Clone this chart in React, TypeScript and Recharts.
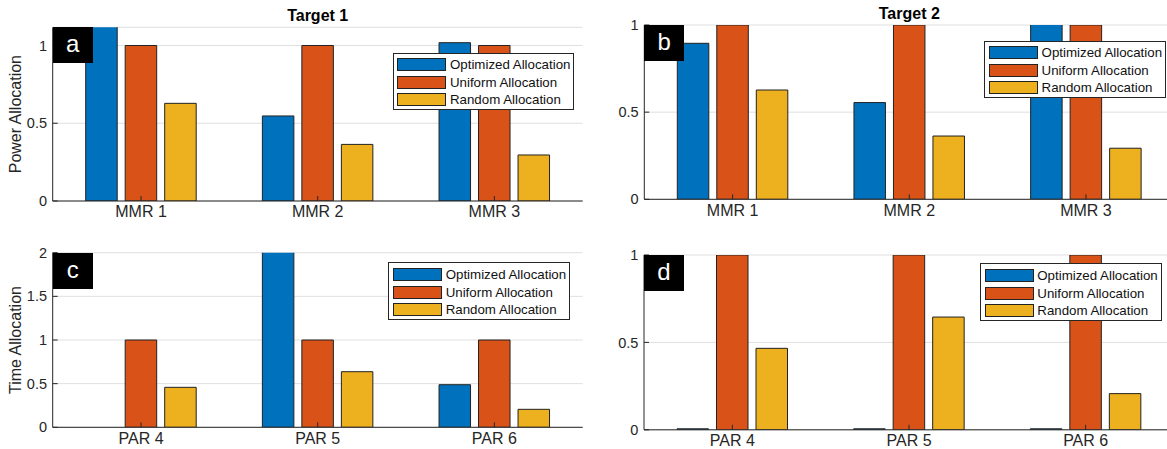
import React from 'react';
import { BarChart, Bar, XAxis, YAxis, CartesianGrid, Legend } from 'recharts';

const mmrLabels = ['MMR 1', 'MMR 2', 'MMR 3'];
const parLabels = ['PAR 4', 'PAR 5', 'PAR 6'];
const seriesNames = ['Optimized Allocation', 'Uniform Allocation', 'Random Allocation'];

// power allocation (top row)
const powerOptimizedT1 = [1.25, 0.547, 1.018];
const powerUniformT1 = [1, 1, 1];
const powerRandomT1 = [0.628, 0.364, 0.296];
const powerOptimizedT2 = [0.895, 0.555, 1.05];
const powerUniformT2 = [1, 1, 1];
const powerRandomT2 = [0.627, 0.363, 0.293];

// time allocation (bottom row)
const timeOptimizedT1 = [0, 2.05, 0.488];
const timeUniformT1 = [1, 1, 1];
const timeRandomT1 = [0.458, 0.637, 0.206];
const timeOptimizedT2 = [0, 0, 0];
const timeUniformT2 = [1, 1, 1];
const timeRandomT2 = [0.466, 0.645, 0.207];

const ticksUnit = [0, 0.5, 1];
const ticksTwo = [0, 0.5, 1, 1.5, 2];

const BLUE = '#0072BD';
const ORANGE = '#D95319';
const YELLOW = '#EDB120';
const AXIS = '#262626';
const FONT = '"Liberation Sans", Arial, Helvetica, sans-serif';

const build = (cats: string[], opt: number[], uni: number[], rnd: number[]) =>
  cats.map((name, i) => ({ name, optimized: opt[i], uniform: uni[i], random: rnd[i] }));

const renderLegend = (props: any) => {
  const items = [...(props.payload || [])].sort(
    (a: any, b: any) => seriesNames.indexOf(a.value) - seriesNames.indexOf(b.value)
  );
  return (
    <div
      style={{
        border: `1px solid ${AXIS}`,
        background: '#fff',
        padding: '2.5px 3px 0.5px 3.6px',
        fontFamily: FONT,
        fontSize: 13.3,
        color: '#111',
        whiteSpace: 'nowrap',
      }}
    >
      {items.map((p: any) => (
        <div key={p.value} style={{ display: 'flex', alignItems: 'center', height: 17.5 }}>
          <span
            style={{
              display: 'inline-block',
              width: 49,
              height: 13,
              background: p.color,
              border: '1px solid #222',
              boxSizing: 'border-box',
            }}
          />
          <span style={{ marginLeft: 3.7 }}>{p.value}</span>
        </div>
      ))}
    </div>
  );
};

type PanelProps = {
  data: any[];
  left: number;
  top: number;
  width: number;
  height: number;
  margin: { top: number; right: number; bottom: number; left: number };
  yWidth: number;
  xHeight: number;
  domainMax: number;
  ticks: number[];
  yLabel?: string;
  title?: string;
  letter: string;
  legendPos: { left: number; top: number };
  zeroLine?: boolean;
};

function Panel(p: PanelProps) {
  const plotLeft = p.margin.left + p.yWidth;
  const plotRight = p.width - p.margin.right;
  const plotTop = p.margin.top;
  return (
    <div style={{ position: 'absolute', left: p.left, top: p.top, width: p.width, height: p.height }}>
      <BarChart
        width={p.width}
        height={p.height}
        data={p.data}
        margin={p.margin}
        barSize={31.5}
        barGap={8}
        style={{ fontFamily: FONT }}
      >
        <CartesianGrid vertical={false} stroke="#dfdfdf" />
        <XAxis
          dataKey="name"
          height={p.xHeight}
          stroke={AXIS}
          tickSize={-5}
          tickMargin={10}
          tick={{ fill: AXIS, fontSize: 16, fontFamily: FONT }}
        />
        <XAxis
          xAxisId="top"
          orientation="top"
          dataKey="name"
          height={0}
          stroke={AXIS}
          tickSize={-5}
          tick={false}
        />
        <YAxis
          type="number"
          domain={[0, p.domainMax]}
          ticks={p.ticks}
          allowDataOverflow
          width={p.yWidth}
          stroke={AXIS}
          tickSize={-5}
          tickMargin={10.7}
          tick={{ fill: AXIS, fontSize: 14.5, fontFamily: FONT }}
          label={
            p.yLabel
              ? {
                  value: p.yLabel,
                  angle: -90,
                  position: 'insideLeft',
                  offset: 15,
                  fontSize: 16,
                  fill: AXIS,
                  fontFamily: FONT,
                  style: { textAnchor: 'middle', fill: AXIS, fontSize: 16, fontFamily: FONT },
                }
              : undefined
          }
        />
        <YAxis
          yAxisId="right"
          orientation="right"
          type="number"
          domain={[0, p.domainMax]}
          ticks={p.ticks}
          allowDataOverflow
          width={0}
          stroke={AXIS}
          tickSize={-5}
          tick={false}
        />
        <Legend
          layout="vertical"
          align="center"
          verticalAlign="middle"
          content={renderLegend}
          wrapperStyle={{ left: p.legendPos.left, top: p.legendPos.top, width: 'auto' }}
        />
        <Bar
          dataKey="optimized"
          name={seriesNames[0]}
          fill={BLUE}
          stroke="#222"
          strokeWidth={1}
          minPointSize={p.zeroLine ? 1 : 0}
          isAnimationActive={false}
        />
        <Bar dataKey="uniform" name={seriesNames[1]} fill={ORANGE} stroke="#222" strokeWidth={1} isAnimationActive={false} />
        <Bar dataKey="random" name={seriesNames[2]} fill={YELLOW} stroke="#222" strokeWidth={1} isAnimationActive={false} />
      </BarChart>
      {p.title && (
        <div
          style={{
            position: 'absolute',
            left: plotLeft,
            width: plotRight - plotLeft,
            top: plotTop - 19.5,
            textAlign: 'center',
            fontFamily: FONT,
            fontWeight: 'bold',
            fontSize: 16,
            lineHeight: '16px',
            color: '#000',
          }}
        >
          {p.title}
        </div>
      )}
      <div
        style={{
          position: 'absolute',
          left: plotLeft,
          top: plotTop,
          width: 40,
          height: 36,
          background: '#000',
          color: '#fff',
          fontFamily: FONT,
          fontSize: 24,
          lineHeight: '34px',
          textAlign: 'center',
        }}
      >
        {p.letter}
      </div>
    </div>
  );
}

export default function App() {
  return (
    <div
      style={{
        position: 'fixed',
        left: 0,
        top: 0,
        width: 1167,
        height: 449,
        overflow: 'hidden',
        background: '#fff',
      }}
    >
      <Panel
        data={build(mmrLabels, powerOptimizedT1, powerUniformT1, powerRandomT1)}
        left={0}
        top={0}
        width={600}
        height={225}
        margin={{ top: 27.3, right: 17.3, bottom: 0, left: 0 }}
        yWidth={52.7}
        xHeight={24}
        domainMax={1.117}
        ticks={ticksUnit}
        yLabel="Power Allocation"
        title="Target 1"
        letter="a"
        legendPos={{ left: 392.7, top: 52.7 }}
      />
      <Panel
        data={build(mmrLabels, powerOptimizedT2, powerUniformT2, powerRandomT2)}
        left={590}
        top={0}
        width={600}
        height={225}
        margin={{ top: 25, right: 15.7, bottom: 0, left: 0 }}
        yWidth={54.3}
        xHeight={25.7}
        domainMax={1}
        ticks={ticksUnit}
        title="Target 2"
        letter="b"
        legendPos={{ left: 394.3, top: 40.7 }}
      />
      <Panel
        data={build(parLabels, timeOptimizedT1, timeUniformT1, timeRandomT1)}
        left={0}
        top={225}
        width={600}
        height={224}
        margin={{ top: 27.7, right: 17.3, bottom: 0, left: 0 }}
        yWidth={52.7}
        xHeight={21.7}
        domainMax={2}
        ticks={ticksTwo}
        yLabel="Time Allocation"
        letter="c"
        legendPos={{ left: 388.4, top: 37.3 }}
      />
      <Panel
        data={build(parLabels, timeOptimizedT2, timeUniformT2, timeRandomT2)}
        left={590}
        top={225}
        width={600}
        height={224}
        margin={{ top: 30, right: 16, bottom: 0, left: 0 }}
        yWidth={54}
        xHeight={19.2}
        domainMax={1}
        ticks={ticksUnit}
        letter="d"
        legendPos={{ left: 390, top: 38.3 }}
        zeroLine
      />
    </div>
  );
}
